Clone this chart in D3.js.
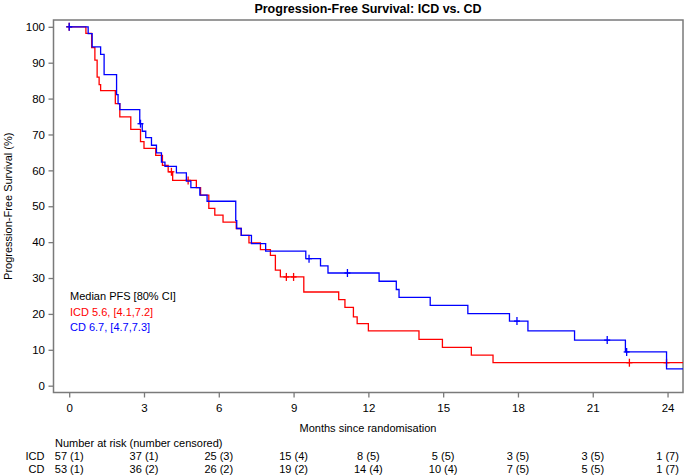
<!DOCTYPE html>
<html><head><meta charset="utf-8">
<script src="https://cdn.jsdelivr.net/npm/d3@7"></script>
<style>
body{margin:0;background:#fff;}
svg{display:block;font-family:"Liberation Sans",Arial,Helvetica,sans-serif;}
</style>
</head><body>
<svg id="chart" width="685" height="475"></svg>
<script>
// ---- data ----
const title = "Progression-Free Survival: ICD vs. CD";
const xLabel = "Months since randomisation";
const yLabel = "Progression-Free Survival (%)";
const xTicks = [0, 3, 6, 9, 12, 15, 18, 21, 24];
const yTicks = [0, 10, 20, 30, 40, 50, 60, 70, 80, 90, 100];
const endTime = 24.62;

// ICD (red) Kaplan-Meier steps: time (months) -> survival (%) after the drop
const icdTimes = [0, 0.67, 0.9, 1.03, 1.12, 1.2, 1.26, 1.85, 2.03, 2.47, 2.86, 3.0, 3.47, 3.74, 3.97, 4.15, 5.1, 5.27, 5.6, 5.84, 6.17, 6.7, 6.9, 7.21, 7.67, 8.07, 8.27, 8.47, 9.41, 10.81, 11.06, 11.4, 11.55, 12.0, 14.03, 14.97, 16.13, 17.0];
const icdSurv  = [100, 98.2, 94.2, 90.7, 86.0, 83.9, 82.2, 78.6, 74.9, 71.4, 68.0, 66.1, 64.2, 61.4, 59.6, 57.2, 55.2, 53.1, 49.4, 47.5, 45.6, 43.8, 41.9, 39.8, 37.9, 36.3, 32.2, 30.3, 26.1, 24.0, 21.8, 19.2, 17.3, 15.3, 12.9, 10.7, 8.5, 6.4];
const icdCensor = [0, 4.1, 4.77, 8.71, 9.0, 22.47, 23.96];

// CD (blue) Kaplan-Meier steps
const cdTimes = [0, 0.76, 0.92, 1.26, 1.4, 1.9, 1.96, 2.03, 2.83, 2.93, 3.07, 3.3, 3.5, 3.7, 3.84, 4.3, 4.7, 4.88, 5.24, 5.53, 6.68, 6.72, 6.9, 7.31, 7.88, 9.49, 10.08, 10.38, 12.43, 13.12, 13.23, 14.48, 15.99, 17.66, 18.4, 20.27, 22.31, 23.96];
const cdSurv  = [100, 98.1, 94.4, 92.3, 86.7, 81.1, 78.6, 76.9, 73.0, 70.9, 69.1, 67.0, 64.9, 62.3, 61.1, 59.3, 57.0, 55.2, 53.1, 51.4, 46.0, 43.8, 41.9, 39.6, 37.5, 35.4, 33.4, 31.4, 29.1, 26.8, 24.6, 22.4, 20.1, 18.0, 15.3, 12.7, 9.4, 4.7];
const cdCensor = [0, 2.86, 9.62, 11.16, 17.96, 21.58, 22.36];

const legendTitle = "Median PFS [80% CI]";
const legendLabels = ["ICD 5.6, [4.1,7.2]", "CD 6.7, [4.7,7.3]"];

const riskTitle = "Number at risk (number censored)";
const riskGroups = ["ICD", "CD"];
const icdRisk = ["57 (1)", "37 (1)", "25 (3)", "15 (4)", "8 (5)", "5 (5)", "3 (5)", "3 (5)", "1 (7)"];
const cdRisk  = ["53 (1)", "36 (2)", "26 (2)", "19 (2)", "14 (4)", "10 (4)", "7 (5)", "5 (5)", "1 (7)"];

// ---- drawing ----
const RED = "#ff0000", BLUE = "#0000ff", FRAME = "#7a7a7a";
const svg = d3.select("#chart");
const x = d3.scaleLinear().domain([-0.63, endTime]).range([53.5, 683]);
const y = d3.scaleLinear().domain([-1.9, 101.9]).range([392.5, 20]);

svg.append("text").attr("x", 368).attr("y", 12.5).attr("text-anchor", "middle")
  .attr("font-size", 12.5).attr("font-weight", "bold").attr("fill", "#000").text(title);

// axes
const gy = svg.append("g").attr("transform", `translate(${x.range()[0]},0)`)
  .call(d3.axisLeft(y).tickValues(yTicks).tickSize(5).tickPadding(3.5));
const gx = svg.append("g").attr("transform", `translate(0,${y.range()[0]})`)
  .call(d3.axisBottom(d3.scaleLinear().domain(x.domain()).range(x.range())).tickValues(xTicks).tickSize(5).tickPadding(6));
[gx, gy].forEach(g => {
  g.select(".domain").remove();
  g.selectAll(".tick line").attr("stroke", FRAME).attr("stroke-width", 1.3);
  g.selectAll(".tick text").attr("font-size", 11.5).attr("fill", "#000")
    .attr("font-family", '"Liberation Sans",Arial,sans-serif');
});

// frame
svg.append("rect").attr("x", x.range()[0]).attr("y", y.range()[1])
  .attr("width", x.range()[1] - x.range()[0]).attr("height", y.range()[0] - y.range()[1])
  .attr("fill", "none").attr("stroke", FRAME).attr("stroke-width", 1.5);

svg.append("text").attr("transform", `translate(12,${(y.range()[0] + y.range()[1]) / 2}) rotate(-90)`)
  .attr("text-anchor", "middle").attr("font-size", 11).attr("fill", "#000").text(yLabel);
svg.append("text").attr("x", 368).attr("y", 432).attr("text-anchor", "middle")
  .attr("font-size", 11).attr("fill", "#000").text(xLabel);

// curves
function survAt(times, surv, t) {
  let s = surv[0];
  for (let i = 0; i < times.length; i++) if (times[i] <= t) s = surv[i];
  return s;
}
function drawCurve(times, surv, censor, color) {
  const pts = times.map((t, i) => [t, surv[i]]);
  pts.push([endTime, surv[surv.length - 1]]);
  const line = d3.line().x(d => x(d[0])).y(d => y(d[1])).curve(d3.curveStepAfter);
  svg.append("path").datum(pts).attr("d", line).attr("fill", "none")
    .attr("stroke", color).attr("stroke-width", 1.3);
  const g = svg.append("g").attr("stroke", color).attr("stroke-width", 1.3);
  censor.forEach(t => {
    const cx = x(t), cy = y(survAt(times, surv, t));
    g.append("line").attr("x1", cx).attr("x2", cx).attr("y1", cy - 4).attr("y2", cy + 4);
    g.append("line").attr("x1", cx - 3).attr("x2", cx + 3).attr("y1", cy).attr("y2", cy);
  });
}
drawCurve(icdTimes, icdSurv, icdCensor, RED);
drawCurve(cdTimes, cdSurv, cdCensor, BLUE);

// legend
const leg = svg.append("g").attr("font-size", 11);
leg.append("text").attr("x", 70).attr("y", 300).attr("fill", "#000").text(legendTitle);
leg.append("text").attr("x", 70).attr("y", 315.5).attr("fill", RED).text(legendLabels[0]);
leg.append("text").attr("x", 70).attr("y", 330.5).attr("fill", BLUE).text(legendLabels[1]);

// risk table
const rt = svg.append("g").attr("font-size", 11).attr("fill", "#000");
rt.append("text").attr("x", 55).attr("y", 447).text(riskTitle);
const riskRows = [icdRisk, cdRisk];
riskRows.forEach((row, r) => {
  const by = 459.5 + r * 13.5;
  rt.append("text").attr("x", 44.5).attr("y", by).attr("text-anchor", "end").text(riskGroups[r]);
  row.forEach((v, i) => {
    rt.append("text").attr("x", x(xTicks[i])).attr("y", by).attr("text-anchor", "middle").text(v);
  });
});
</script>
</body></html>
